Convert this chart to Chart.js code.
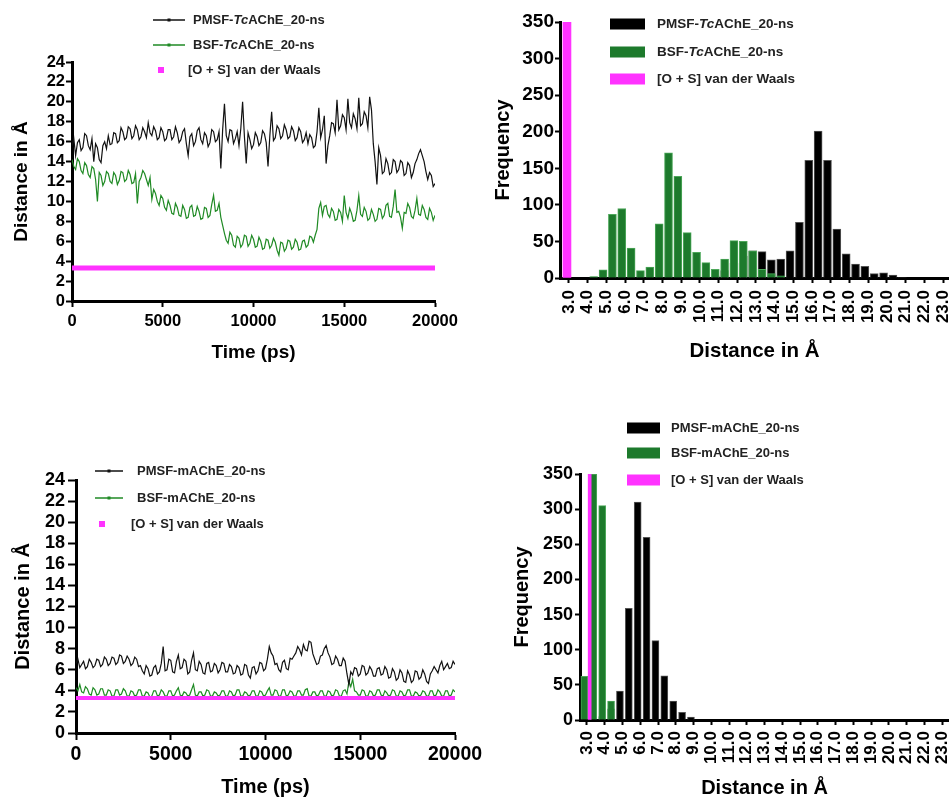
<!DOCTYPE html>
<html>
<head>
<meta charset="utf-8">
<script src="https://cdn.jsdelivr.net/npm/chart.js@4.4.1/dist/chart.umd.min.js"></script>
<style>
  html, body { margin: 0; padding: 0; background: #fff; overflow: hidden; }
  body { width: 949px; height: 797px; position: relative; }
  canvas { position: absolute; }
</style>
</head>
<body>
<canvas id="tcLine" width="480" height="380" style="left:0;top:0"></canvas>
<canvas id="tcHist" width="469" height="380" style="left:480px;top:0"></canvas>
<canvas id="mHist" width="469" height="410" style="left:480px;top:400px"></canvas>
<canvas id="mLine" width="500" height="410" style="left:0;top:400px"></canvas>
<script>
// ---- labels ----
const PMSF_TC_LABEL = 'PMSF-TcAChE_20-ns';
const BSF_TC_LABEL = 'BSF-TcAChE_20-ns';
const PMSF_M_LABEL = 'PMSF-mAChE_20-ns';
const BSF_M_LABEL = 'BSF-mAChE_20-ns';
const VDW_LABEL = '[O + S] van der Waals';

// ---- time series (ps, Å), one row = 2000 ps ----
const TIME_PS = [
  0,100,200,300,400,500,600,700,800,900,1000,1100,1200,1300,1400,1500,1600,1700,1800,1900,
  2000,2100,2200,2300,2400,2500,2600,2700,2800,2900,3000,3100,3200,3300,3400,3500,3600,3700,3800,3900,
  4000,4100,4200,4300,4400,4500,4600,4700,4800,4900,5000,5100,5200,5300,5400,5500,5600,5700,5800,5900,
  6000,6100,6200,6300,6400,6500,6600,6700,6800,6900,7000,7100,7200,7300,7400,7500,7600,7700,7800,7900,
  8000,8100,8200,8300,8400,8500,8600,8700,8800,8900,9000,9100,9200,9300,9400,9500,9600,9700,9800,9900,
  10000,10100,10200,10300,10400,10500,10600,10700,10800,10900,11000,11100,11200,11300,11400,11500,11600,11700,11800,11900,
  12000,12100,12200,12300,12400,12500,12600,12700,12800,12900,13000,13100,13200,13300,13400,13500,13600,13700,13800,13900,
  14000,14100,14200,14300,14400,14500,14600,14700,14800,14900,15000,15100,15200,15300,15400,15500,15600,15700,15800,15900,
  16000,16100,16200,16300,16400,16500,16600,16700,16800,16900,17000,17100,17200,17300,17400,17500,17600,17700,17800,17900,
  18000,18100,18200,18300,18400,18500,18600,18700,18800,18900,19000,19100,19200,19300,19400,19500,19600,19700,19800,19900,
  20000];

const PMSF_TC = [
  15.6,16.3,14.6,15.9,16.2,15.1,15.4,16.8,16.6,15.6,15.2,16.3,14.0,15.8,15.4,14.2,13.9,15.6,16.0,15.3,
  16.6,15.7,15.8,16.9,16.8,15.9,16.1,17.4,17.0,16.2,16.4,17.5,17.3,16.3,16.6,17.6,17.2,16.2,16.5,17.4,
  17.0,16.4,17.9,16.9,16.6,17.5,17.1,16.2,16.4,17.4,17.0,16.1,16.3,17.2,17.2,16.2,16.5,17.5,16.9,15.9,
  16.2,17.0,17.3,15.8,14.6,16.5,16.8,15.6,16.0,17.1,17.4,16.2,15.8,16.9,16.6,15.5,15.9,17.2,17.0,16.0,
  16.2,17.0,13.3,17.2,19.8,16.6,16.0,17.2,17.1,15.8,16.3,17.0,15.6,17.3,20.0,16.5,13.8,16.9,16.2,15.3,
  15.7,16.9,16.5,15.6,15.9,17.1,16.8,15.9,13.5,16.6,19.0,16.1,16.4,17.6,17.3,16.3,16.6,17.7,17.2,16.3,
  16.5,17.5,17.1,16.1,16.4,17.4,17.0,15.9,16.2,16.9,15.8,16.7,16.4,15.4,15.6,17.0,19.4,16.4,17.2,18.6,
  13.8,15.6,16.6,17.9,17.8,16.9,20.2,17.2,17.6,18.7,18.4,17.2,20.3,17.9,17.4,18.8,18.3,17.3,20.4,17.6,
  17.8,19.0,18.6,17.4,20.5,19.2,15.8,14.0,11.7,15.4,14.6,12.8,13.0,14.3,13.8,12.7,12.9,14.2,14.0,12.9,
  13.2,14.1,13.9,12.6,12.8,13.9,13.6,12.4,12.9,13.8,14.2,14.8,15.2,14.6,14.0,13.0,12.2,12.9,12.6,11.5,
  11.8];

const BSF_TC = [
  14.2,13.5,13.2,14.3,14.0,13.1,12.8,13.9,13.6,12.7,12.4,13.5,13.3,12.2,10.0,12.9,12.6,11.6,12.0,13.0,
  12.8,12.0,11.8,12.9,12.6,11.7,12.1,13.0,12.9,12.0,12.2,13.1,12.7,11.8,11.9,12.8,9.8,12.0,12.4,13.1,
  12.8,12.2,11.6,12.4,10.2,11.2,10.8,10.0,9.6,10.6,10.3,9.4,9.1,10.1,9.6,8.8,8.7,9.8,9.4,8.6,
  8.5,9.6,9.2,8.3,8.4,9.4,9.6,8.5,8.6,9.5,9.0,8.2,8.3,9.4,9.3,8.4,8.6,9.7,10.6,9.0,
  9.1,9.8,8.4,7.6,6.8,6.1,5.8,6.9,6.6,5.6,5.4,6.5,6.3,5.4,5.7,6.6,6.5,5.5,5.8,6.6,
  6.2,5.4,5.5,6.4,6.0,5.2,5.3,6.2,6.1,5.3,5.6,6.3,5.9,5.1,4.6,5.9,5.8,5.0,5.3,6.1,
  6.0,5.2,5.4,6.2,5.9,5.1,5.2,6.0,6.1,5.4,5.6,6.5,6.4,5.9,6.6,7.2,9.3,9.9,8.6,9.5,
  9.6,8.7,8.4,9.3,9.0,8.1,8.2,9.2,8.9,8.0,10.6,8.9,8.3,9.3,8.8,8.0,8.1,9.1,10.6,8.7,
  8.5,9.4,9.0,8.1,8.3,9.2,8.7,8.0,8.2,9.3,9.2,8.3,8.6,9.6,9.8,8.5,8.4,9.5,11.2,8.9,
  9.0,8.4,7.3,8.9,8.8,9.8,9.4,8.5,8.3,9.1,10.3,8.7,8.6,9.6,9.2,8.4,8.2,9.3,8.9,8.1,
  8.6];

const PMSF_M = [
  6.6,7.0,6.2,6.5,6.8,6.1,6.3,7.0,6.7,6.2,6.4,7.0,6.9,6.3,6.5,7.2,7.0,6.4,6.6,7.2,
  7.1,6.5,6.7,7.4,7.3,6.6,6.8,7.3,7.0,6.4,6.6,7.2,7.0,6.3,6.4,5.9,5.6,6.4,6.1,5.4,
  5.5,6.2,6.4,5.6,5.8,6.6,8.2,5.9,6.0,7.0,6.9,5.8,5.7,6.8,7.4,6.1,6.2,7.0,6.8,5.6,
  5.8,6.9,7.6,6.0,5.9,6.8,6.5,5.7,5.6,6.6,6.7,5.8,5.9,6.6,6.4,5.7,6.0,6.7,6.6,5.8,
  5.8,6.5,6.3,5.6,5.7,6.4,6.2,5.5,5.6,6.5,6.4,5.5,5.2,6.2,6.3,5.6,5.9,6.7,6.6,5.9,
  6.1,7.0,8.2,7.6,7.3,6.5,6.6,6.0,5.8,6.7,6.9,6.1,6.0,7.1,7.0,7.3,7.6,8.2,7.9,7.4,
  8.4,7.9,7.8,8.7,8.6,7.5,7.0,6.5,6.6,7.3,7.4,8.0,8.3,7.6,7.2,6.5,6.6,7.3,7.0,6.4,
  6.4,7.1,6.8,5.6,4.6,5.8,5.5,6.2,6.1,5.4,5.6,6.4,6.3,5.5,5.7,6.3,6.0,5.4,5.4,6.1,
  6.2,5.5,5.6,6.3,6.0,5.2,5.3,6.1,5.8,5.0,5.2,6.0,5.7,4.9,4.8,5.9,5.5,4.8,5.0,5.9,
  5.8,5.1,5.3,6.0,5.6,4.9,4.7,5.6,5.9,6.3,6.0,5.7,6.4,6.8,6.0,6.3,6.6,6.1,6.2,6.8,
  6.5];

const BSF_M = [
  4.3,4.0,4.6,3.9,3.8,4.4,4.2,3.7,3.6,4.3,4.1,3.6,3.7,4.2,4.2,3.6,3.6,4.1,4.0,3.5,
  3.5,4.1,4.1,3.6,3.7,4.2,4.0,3.5,3.5,4.0,3.9,3.5,3.6,4.1,4.1,3.5,3.5,3.9,3.8,3.4,
  3.5,4.0,4.0,3.5,3.6,4.1,3.9,3.5,3.5,4.0,4.0,3.5,3.6,4.0,4.3,3.6,3.5,3.9,3.8,3.5,
  3.6,4.1,4.6,3.6,3.5,3.9,3.9,3.5,3.6,4.1,4.0,3.5,3.5,3.9,3.8,3.5,3.6,4.0,4.0,3.5,
  3.5,4.0,3.9,3.5,3.6,4.1,4.1,3.5,3.5,3.9,3.8,3.5,3.6,4.0,4.0,3.5,3.5,4.0,3.9,3.5,
  3.6,4.0,4.3,3.6,3.6,4.1,4.0,3.5,3.5,4.1,4.1,3.5,3.6,4.0,3.9,3.5,3.5,4.0,4.0,3.6,
  3.6,4.1,4.2,3.5,3.5,3.9,3.9,3.5,3.6,4.0,4.0,3.5,3.5,4.0,3.9,3.5,3.6,4.1,4.0,3.5,
  3.5,4.0,4.1,3.7,4.9,4.4,5.1,4.0,3.9,3.6,3.6,4.1,4.0,3.5,3.5,4.0,3.9,3.5,3.6,4.1,
  4.1,3.6,3.5,4.0,3.8,3.5,3.6,4.1,4.0,3.5,3.5,4.0,3.9,3.5,3.6,4.1,4.1,3.5,3.5,3.9,
  3.8,3.5,3.6,4.0,3.9,3.5,3.5,4.0,4.0,3.5,3.6,4.1,3.9,3.5,3.5,4.0,4.0,3.5,3.6,4.1,
  3.9];

// [O + S] van der Waals contact distance
const VDW_TIME = [0, 20000];
const VDW_LINE = [3.32, 3.32];

// ---- histograms (bin centre in Å, frequency) ----
const BIN_CENTRES = [3.25,3.75,4.25,4.75,5.25,5.75,6.25,6.75,7.25,7.75,8.25,8.75,9.25,9.75,10.25,10.75,11.25,11.75,12.25,12.75,
  13.25,13.75,14.25,14.75,15.25,15.75,16.25,16.75,17.25,17.75,18.25,18.75,19.25,19.75,20.25,20.75,21.25,21.75,22.25,22.75];
const PMSF_TC_FREQ = [0,0,0,0,0,0,0,0,0,0, 0,0,0,0,0,0,3,10,20,30, 37,36,25,26,37,76,161,201,161,67, 33,19,16,6,7,4,1,0,0,0];
const BSF_TC_FREQ = [0,0,0,2,11,87,95,41,10,15, 74,171,139,62,35,21,12,26,51,50, 37,12,6,3,0,0,0,0,0,0, 0,0,0,0,0,0,0,0,0,0];
const PMSF_M_FREQ = [0,0,5,16,41,159,310,260,113,63, 27,11,4,0,0,0,0,0,0,0, 0,0,0,0,0,0,0,0,0,0, 0,0,0,0,0,0,0,0,0,0];
const BSF_M_FREQ = [62,350,305,27,0,0,0,0,0,0, 0,0,0,0,0,0,0,0,0,0, 0,0,0,0,0,0,0,0,0,0, 0,0,0,0,0,0,0,0,0,0];
const VDW_BIN = [3.32];
const VDW_FREQ = [350];

// ---- ticks ----
const DIST_Y_TICKS = [0,2,4,6,8,10,12,14,16,18,20,22,24];
const TIME_TICKS = [0,5000,10000,15000,20000];
const FREQ_TICKS = [0,50,100,150,200,250,300,350];
const DIST_X_TICKS = [3,4,5,6,7,8,9,10,11,12,13,14,15,16,17,18,19,20,21,22,23];

const FONT = "'Liberation Sans', Arial, Helvetica, sans-serif";
const MAGENTA = '#ff33ff';
const LINE_GREEN = '#1f8a24';
const BAR_GREEN = '#1d7a2c';
const BAR_GREEN_EDGE = '#4da85a';

function xy(xs, ys) {
  return xs.map((x, i) => ({ x: x, y: ys[i] }));
}

function boldFont(size) {
  return { family: FONT, size: size, weight: 'bold' };
}

// draws label text, with "Tc" in italics
function drawLabel(ctx, text, x, y, size) {
  let cx = x;
  text.split(/(Tc)/).forEach(part => {
    if (!part) return;
    ctx.font = (part === 'Tc' ? 'italic ' : '') + 'bold ' + size + 'px ' + FONT;
    ctx.fillText(part, cx, y);
    cx += ctx.measureText(part).width;
  });
}

const panelLegend = {
  id: 'panelLegend',
  afterDraw(chart, args, opts) {
    const ctx = chart.ctx;
    ctx.save();
    ctx.textBaseline = 'middle';
    opts.rows.forEach(row => {
      const ds = chart.data.datasets[row.dataset];
      if (row.symbol === 'line') {
        ctx.strokeStyle = ds.borderColor;
        ctx.lineWidth = 1.5;
        ctx.beginPath();
        ctx.moveTo(row.x0, row.y);
        ctx.lineTo(row.x1, row.y);
        ctx.stroke();
        ctx.fillStyle = ds.borderColor;
        ctx.fillRect((row.x0 + row.x1) / 2 - 1.5, row.y - 1.5, 3, 3);
      } else if (row.symbol === 'square') {
        ctx.fillStyle = ds.borderColor;
        ctx.fillRect(row.x0, row.y - 3, 6, 6);
      } else {
        ctx.fillStyle = ds.backgroundColor;
        ctx.fillRect(row.x0, row.y - row.h / 2, row.x1 - row.x0, row.h);
      }
      ctx.fillStyle = '#222';
      drawLabel(ctx, ds.label, row.tx, row.y, opts.size);
    });
    ctx.restore();
  }
};

function axis(o) {
  const horiz = o.position === 'bottom';
  return {
    type: 'linear',
    position: o.position,
    min: o.min,
    max: o.max,
    offset: false,
    stacked: false,
    grid: { display: true, offset: false, drawOnChartArea: false, drawTicks: true,
            tickLength: o.tickLength, tickWidth: 2, tickColor: '#000' },
    border: { display: true, color: '#000', width: 3 },
    ticks: {
      color: '#000', font: boldFont(o.tickSize), padding: o.tickPad, autoSkip: false,
      maxRotation: o.rotate || 0, minRotation: o.rotate || 0,
      callback: o.fmt || (v => String(v))
    },
    title: {
      display: true, text: o.title, color: '#000', font: boldFont(o.titleSize),
      padding: horiz ? { top: 0, bottom: o.titlePad } : { top: o.titlePad, bottom: 0 }
    },
    afterBuildTicks: s => { s.ticks = o.ticks.map(v => ({ value: v })); },
    afterFit: s => {
      if (horiz) { s.height = o.size; s.paddingLeft = 0; s.paddingRight = 0; }
      else { s.width = o.size; s.paddingTop = 0; s.paddingBottom = 0; }
    }
  };
}

function baseOptions(padding, scales, legend) {
  return {
    responsive: false,
    animation: false,
    events: [],
    layout: { padding: padding },
    elements: { point: { radius: 0 }, line: { tension: 0 } },
    scales: scales,
    plugins: { legend: { display: false }, tooltip: { enabled: false }, panelLegend: legend }
  };
}

// ---- top left: TcAChE distance vs time ----
new Chart(document.getElementById('tcLine'), {
  type: 'line',
  data: { datasets: [
    { label: VDW_LABEL, data: xy(VDW_TIME, VDW_LINE), borderColor: MAGENTA, borderWidth: 5 },
    { label: PMSF_TC_LABEL, data: xy(TIME_PS, PMSF_TC), borderColor: '#111', borderWidth: 1.2 },
    { label: BSF_TC_LABEL, data: xy(TIME_PS, BSF_TC), borderColor: LINE_GREEN, borderWidth: 1.2 }
  ]},
  options: baseOptions({ left: 0, top: 62, right: 45, bottom: 0 }, {
    x: axis({ position: 'bottom', min: 0, max: 20000, ticks: TIME_TICKS, size: 79, tickLength: 6, tickPad: 5,
              tickSize: 16.5, title: 'Time (ps)', titleSize: 19, titlePad: 16 }),
    y: axis({ position: 'left', min: 0, max: 24, ticks: DIST_Y_TICKS, size: 72, tickLength: 6, tickPad: 1,
              tickSize: 16.5, title: 'Distance in Å', titleSize: 19, titlePad: 10 })
  }, { size: 13, rows: [
    { dataset: 1, symbol: 'line', x0: 153, x1: 185, y: 20, tx: 193 },
    { dataset: 2, symbol: 'line', x0: 153, x1: 185, y: 45, tx: 193 },
    { dataset: 0, symbol: 'square', x0: 158, y: 70, tx: 188 }
  ]}),
  plugins: [panelLegend]
});

// ---- top right: TcAChE histogram ----
new Chart(document.getElementById('tcHist'), {
  type: 'bar',
  data: { datasets: [
    { label: VDW_LABEL, data: xy(VDW_BIN, VDW_FREQ), backgroundColor: MAGENTA, borderWidth: 0, barThickness: 8, stack: 'h' },
    { label: BSF_TC_LABEL, data: xy(BIN_CENTRES, BSF_TC_FREQ), backgroundColor: BAR_GREEN, borderColor: BAR_GREEN_EDGE,
      borderWidth: 1, barThickness: 8, stack: 'h' },
    { label: PMSF_TC_LABEL, data: xy(BIN_CENTRES, PMSF_TC_FREQ), backgroundColor: '#000', borderColor: '#555',
      borderWidth: 1, barThickness: 8, stack: 'h' }
  ]},
  options: baseOptions({ left: 0, top: 22, right: 0, bottom: 0 }, {
    x: axis({ position: 'bottom', min: 2.52, max: 23.32, ticks: DIST_X_TICKS, size: 102, tickLength: 5, tickPad: 7,
              tickSize: 17, rotate: 90, fmt: v => v.toFixed(1), title: 'Distance in Å', titleSize: 20.5, titlePad: 16 }),
    y: axis({ position: 'left', min: 0, max: 350, ticks: FREQ_TICKS, size: 80, tickLength: 5, tickPad: 1,
              tickSize: 19, title: 'Frequency', titleSize: 20, titlePad: 11 })
  }, { size: 13.5, rows: [
    { dataset: 2, symbol: 'box', x0: 130, x1: 165, h: 11, y: 24, tx: 177 },
    { dataset: 1, symbol: 'box', x0: 130, x1: 165, h: 11, y: 52, tx: 177 },
    { dataset: 0, symbol: 'box', x0: 130, x1: 165, h: 11, y: 79, tx: 177 }
  ]}),
  plugins: [panelLegend]
});

// ---- bottom left: mAChE distance vs time ----
new Chart(document.getElementById('mLine'), {
  type: 'line',
  data: { datasets: [
    { label: VDW_LABEL, data: xy(VDW_TIME, VDW_LINE), borderColor: MAGENTA, borderWidth: 4 },
    { label: PMSF_M_LABEL, data: xy(TIME_PS, PMSF_M), borderColor: '#111', borderWidth: 1.2 },
    { label: BSF_M_LABEL, data: xy(TIME_PS, BSF_M), borderColor: LINE_GREEN, borderWidth: 1.2 }
  ]},
  options: baseOptions({ left: 0, top: 80, right: 45, bottom: 0 }, {
    x: axis({ position: 'bottom', min: 0, max: 20000, ticks: TIME_TICKS, size: 77, tickLength: 7, tickPad: 3,
              tickSize: 19.5, title: 'Time (ps)', titleSize: 20, titlePad: 11 }),
    y: axis({ position: 'left', min: 0, max: 24, ticks: DIST_Y_TICKS, size: 76, tickLength: 8, tickPad: 3,
              tickSize: 18, title: 'Distance in Å', titleSize: 20, titlePad: 11.5 })
  }, { size: 13, rows: [
    { dataset: 1, symbol: 'line', x0: 95, x1: 123, y: 71, tx: 137 },
    { dataset: 2, symbol: 'line', x0: 95, x1: 123, y: 98, tx: 137 },
    { dataset: 0, symbol: 'square', x0: 99, y: 124, tx: 131 }
  ]}),
  plugins: [panelLegend]
});

// ---- bottom right: mAChE histogram ----
new Chart(document.getElementById('mHist'), {
  type: 'bar',
  data: { datasets: [
    { label: VDW_LABEL, data: xy(VDW_BIN, VDW_FREQ), backgroundColor: MAGENTA, borderWidth: 0, barThickness: 3, stack: 'h' },
    { label: BSF_M_LABEL, data: xy(BIN_CENTRES, BSF_M_FREQ), backgroundColor: BAR_GREEN, borderColor: BAR_GREEN_EDGE,
      borderWidth: 1, barThickness: 7, stack: 'h' },
    { label: PMSF_M_LABEL, data: xy(BIN_CENTRES, PMSF_M_FREQ), backgroundColor: '#000', borderColor: '#555',
      borderWidth: 1, barThickness: 7, stack: 'h' }
  ]},
  options: baseOptions({ left: 0, top: 74, right: 0, bottom: 0 }, {
    x: axis({ position: 'bottom', min: 2.606, max: 23.39, ticks: DIST_X_TICKS, size: 90, tickLength: 5, tickPad: 6,
              tickSize: 17, rotate: 90, fmt: v => v.toFixed(1), title: 'Distance in Å', titleSize: 20, titlePad: 10 }),
    y: axis({ position: 'left', min: 0, max: 350, ticks: FREQ_TICKS, size: 100, tickLength: 5, tickPad: 2,
              tickSize: 18, title: 'Frequency', titleSize: 20, titlePad: 30 })
  }, { size: 13, rows: [
    { dataset: 2, symbol: 'box', x0: 147, x1: 180, h: 11, y: 28, tx: 191 },
    { dataset: 1, symbol: 'box', x0: 147, x1: 180, h: 11, y: 53, tx: 191 },
    { dataset: 0, symbol: 'box', x0: 147, x1: 180, h: 11, y: 80, tx: 191 }
  ]}),
  plugins: [panelLegend]
});
</script>
</body>
</html>
